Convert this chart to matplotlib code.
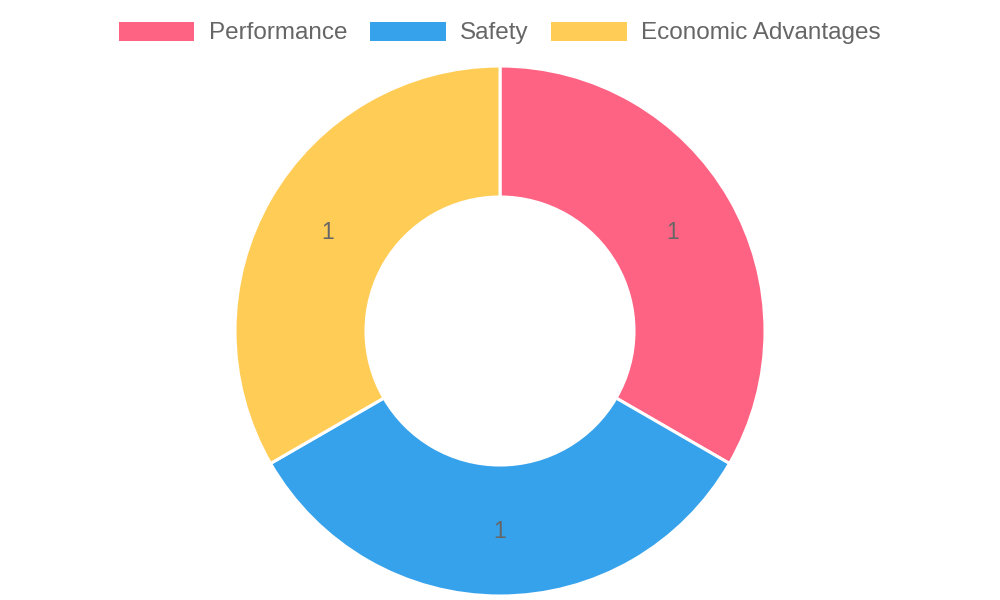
import matplotlib
matplotlib.use("Agg")
import matplotlib.pyplot as plt
from matplotlib.patches import Patch
import numpy as np

# data
categories = ["Performance", "Safety", "Economic Advantages"]
values = [1, 1, 1]
colors = ["#FF6384", "#36A2EB", "#FFCD56"]

plt.rcParams['font.family'] = ['Liberation Sans', 'DejaVu Sans']

fig = plt.figure(figsize=(10, 6), dpi=100)
ax = fig.add_axes([0, 0, 1, 1])

cx, cy = 500, 600 - 331
r_out, r_in = 265, 134

wedges, _ = ax.pie(values, colors=colors, startangle=90, counterclock=False,
                   center=(cx, cy), radius=r_out, frame=True,
                   wedgeprops=dict(width=r_out - r_in, edgecolor='white', linewidth=2.2))
ax.set_xlim(0, 1000)
ax.set_ylim(0, 600)
ax.set_aspect('equal')
ax.axis('off')

# value labels at middle of the ring
r_mid = (r_out + r_in) / 2
for w, v in zip(wedges, values):
    ang = np.deg2rad((w.theta1 + w.theta2) / 2)
    ax.text(cx + r_mid * np.cos(ang), cy + r_mid * np.sin(ang) - 1, str(v),
            ha='center', va='center', fontsize=16.5, color='#666666')

handles = [Patch(facecolor=c, edgecolor='none') for c in colors]
fig.legend(handles, categories, loc='center', bbox_to_anchor=(0.5, 1 - 33 / 600),
           ncol=3, frameon=False, fontsize=17.5, labelcolor='#666666',
           handlelength=3.1, handleheight=0.83, handletextpad=0.6,
           columnspacing=0.93, borderpad=0)

fig.savefig("out.png", dpi=100)
